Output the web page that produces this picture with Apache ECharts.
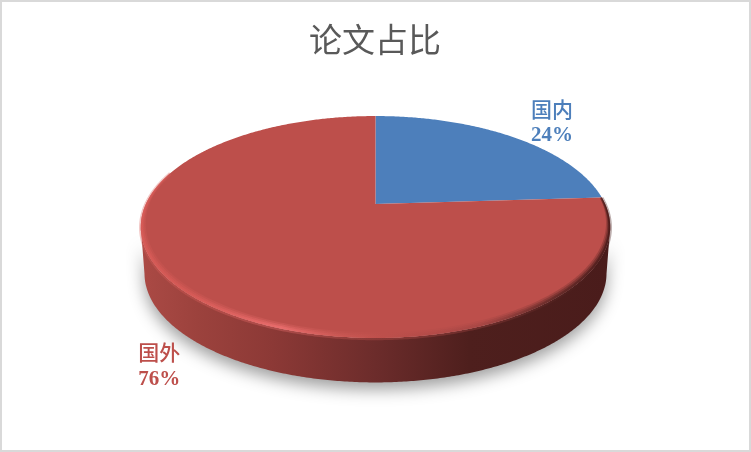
<!DOCTYPE html>
<html><head><meta charset="utf-8">
<script src="https://cdn.jsdelivr.net/npm/echarts@6/dist/echarts.min.js"></script>
<style>html,body{margin:0;padding:0;background:#fff}#c{width:751px;height:452px}</style>
</head><body><div id="c"></div>
<script>
const titleText = '论文占比';
const categories = ['国内', '国外'];
const shares = [24, 76];
const sliceColors = ['#4D7FBB', '#BD4F4B'];

// Perspective view of the disc
const cx = 375.5, apexY = 204, persp = 0.2072, rad = 229.6, radY = 106.2, depth = 47;
const total = shares.reduce((a, b) => a + b, 0);
const starts = shares.map((_, i) => shares.slice(0, i).reduce((a, b) => a + b, 0) / total);
const P = (f, s = 1, dy = 0) => {
  const u = s * Math.sin(2 * Math.PI * f), v = s * Math.cos(2 * Math.PI * f), d = 1 + persp * v;
  return [cx + rad * u / d, apexY + dy - radY * v / d];
};
const arc = (a, b, fn) => {
  const n = Math.max(2, Math.ceil(Math.abs(b - a) * 720)), out = [];
  for (let i = 0; i <= n; i++) out.push(fn(a + (b - a) * i / n));
  return out;
};
const grad = (stops) => new echarts.graphic.LinearGradient(0, 0, 1, 0, stops.map(s => ({offset: s[0], color: s[1]})));
const fWide = Math.acos(-persp) / (2 * Math.PI);
const labelOffsets = [[40, -14.5], [-31, 70.5]];
const rimStops = [[0, '#D95C58'], [0.1, '#D85B57'], [0.3, '#EE7070'], [0.42, '#CC5955'], [0.52, '#BD4F4B'],
                  [0.72, '#A64644'], [0.88, '#5A2624'], [1, '#401716']];

function lens(a, b, rimA, rimB, kMax, opacity) {
  const outer = arc(a, b, f => P(f));
  const inner = arc(b, a, f => {
    const t = Math.min(1, Math.max(0, (f - rimA) / (rimB - rimA)));
    return P(f, 1 - kMax * Math.pow(Math.sin(Math.PI * t), 0.6));
  });
  return {type: 'polygon', shape: {points: outer.concat(inner)}, style: {opacity, fill: grad(rimStops)}};
}

function renderItem(params, api) {
  const i = params.dataIndex;
  const value = api.value(0);
  const a = starts[i], b = a + value / total, mid = (a + b) / 2;
  const children = [];
  const wa = Math.max(a, fWide), wb = Math.min(b, 1 - fWide);
  if (wb > wa) {
    const top = arc(wa, wb, f => P(f));
    const low = arc(wb, wa, f => P(f, 0.985, depth));
    children.push({
      type: 'polygon', shape: {points: top.concat(low)},
      style: {
        fill: grad([[0, '#AB4A45'], [0.12, '#9C423D'], [0.28, '#8C3936'], [0.5, '#6C2C2B'], [0.7, '#4E1F1D'], [1, '#4A1C1B']]),
        shadowBlur: 16, shadowColor: 'rgba(0,0,0,0.38)', shadowOffsetY: 7, shadowOffsetX: 0
      }
    });
  }
  children.push({
    type: 'polygon', shape: {points: [[cx, apexY]].concat(arc(a, b, f => P(f)))},
    style: {fill: sliceColors[i]}
  });
  const ra = Math.max(a, 0.24), rb = Math.min(b, 0.8);
  if (rb > ra) {
    children.push({
      type: 'polyline', shape: {points: arc(ra, rb, f => P(f, 1, 0.5))},
      style: {fill: 'none', stroke: grad(rimStops), lineWidth: 3.5, opacity: 0.35}
    });
    children.push(lens(ra, rb, 0.22, 0.8, 0.034, 0.25));
    children.push(lens(ra, rb, 0.22, 0.8, 0.024, 0.4));
    children.push(lens(ra, rb, 0.22, 0.8, 0.014, 0.6));
  }
  const anchor = P(mid);
  children.push({
    type: 'text', z2: 10,
    x: anchor[0] + labelOffsets[i][0], y: anchor[1] + labelOffsets[i][1],
    style: {
      text: '{n|' + categories[i] + '}\n{p|' + value + '%}',
      align: 'center', verticalAlign: 'middle', fill: sliceColors[i],
      rich: {
        n: {fontFamily: '"Noto Sans CJK SC"', fontSize: 21, fontWeight: 500, lineHeight: 27, fill: sliceColors[i]},
        p: {fontFamily: '"Liberation Serif"', fontSize: 21, fontWeight: 'bold', lineHeight: 27, fill: sliceColors[i]}
      }
    }
  });
  return {type: 'group', children};
}

const chart = echarts.init(document.getElementById('c'), null, {renderer: 'canvas'});
chart.setOption({
  animation: false,
  backgroundColor: '#fff',
  title: {
    text: titleText, left: 304, top: 18,
    textStyle: {fontFamily: '"Noto Sans CJK SC"', fontSize: 33, fontWeight: 'normal', color: '#595959'}
  },
  graphic: [{
    type: 'rect', silent: true, z: -1,
    shape: {x: 1, y: 1, width: 749, height: 450},
    style: {fill: 'none', stroke: '#D9D9D9', lineWidth: 2}
  }],
  series: [{
    type: 'custom', coordinateSystem: 'none', renderItem, silent: true,
    data: shares.map(v => [v])
  }]
});
</script></body></html>
